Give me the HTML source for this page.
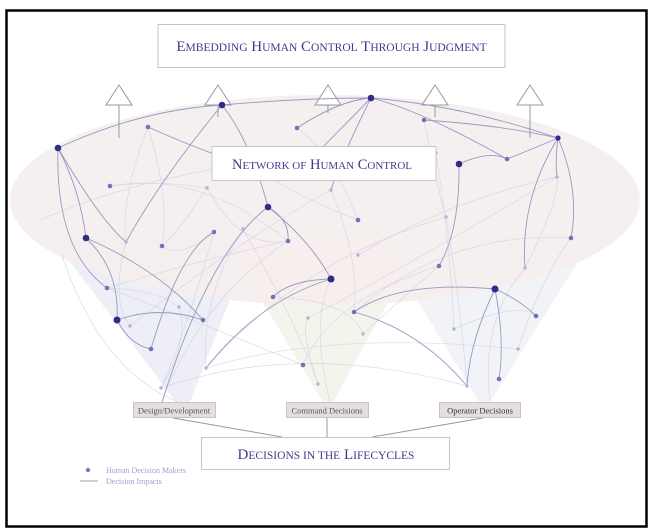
<!DOCTYPE html>
<html><head><meta charset="utf-8"><style>
html,body{margin:0;padding:0;background:#fff;}
svg{display:block;font-family:"Liberation Serif",serif;}
</style></head><body>
<svg width="651" height="531" viewBox="0 0 651 531" xmlns="http://www.w3.org/2000/svg">
<rect x="0" y="0" width="651" height="531" fill="#fff"/>
<rect x="6.5" y="10.5" width="640" height="516" fill="#fff" stroke="#000" stroke-width="2.5"/>
<!-- funnels -->
<polygon points="50,235 255,235 190,402 176,402" fill="#eeeef6"/>
<polygon points="222,235 425,235 333,402 323,402" fill="#f4f3ec"/>
<polygon points="378,235 595,235 490,402 479,402" fill="#f1f3f7"/>
<!-- ellipse -->
<ellipse cx="325" cy="200" rx="315" ry="105" fill="#f5eeee" opacity="0.93"/>
<!-- arrows -->
<g stroke="#999" stroke-width="1" fill="#fff">
<line x1="119" y1="105" x2="119" y2="138"/><polygon points="119,85 106,105 132,105"/>
<line x1="218" y1="105" x2="218" y2="117"/><polygon points="218,85 205,105 231,105"/>
<line x1="328" y1="105" x2="328" y2="113"/><polygon points="328,85 315,105 341,105"/>
<line x1="435" y1="105" x2="435" y2="117"/><polygon points="435,85 422,105 448,105"/>
<line x1="530" y1="105" x2="530" y2="138"/><polygon points="530,85 517,105 543,105"/>
</g>
<!-- light edges -->
<g fill="none" stroke="#cfcfe4" stroke-width="0.7" opacity="0.75">
<path d="M110,186 Q200,170 288,241"/><path d="M110,186 Q160,180 207,188"/>
<path d="M148,127 Q120,200 126,242"/><path d="M148,127 Q170,200 162,246"/>
<path d="M207,188 Q180,230 162,246"/><path d="M207,188 Q240,250 288,241"/>
<path d="M162,246 Q180,260 214,232"/><path d="M107,288 Q200,260 288,241"/>
<path d="M107,288 Q160,290 179,307"/><path d="M126,242 Q110,300 130,326"/>
<path d="M243,229 Q200,300 206,368"/><path d="M243,229 Q300,330 318,384"/>
<path d="M214,232 Q190,320 161,388"/><path d="M179,307 Q190,340 161,388"/>
<path d="M62,255 Q100,370 178,402"/><path d="M162,402 Q200,300 288,241"/>
<path d="M206,368 Q300,260 446,217"/><path d="M308,318 Q400,270 557,177"/>
<path d="M331,190 Q360,260 354,312"/><path d="M358,255 Q450,200 557,177"/>
<path d="M354,312 Q450,230 571,238"/><path d="M446,217 Q460,300 467,386"/>
<path d="M436,153 Q450,240 454,329"/><path d="M525,268 Q560,200 557,177"/>
<path d="M454,329 Q520,300 536,316"/><path d="M518,349 Q540,280 571,238"/>
<path d="M161,388 Q300,340 467,386"/><path d="M206,368 Q330,330 518,349"/>
<path d="M303,365 Q330,300 439,266"/><path d="M318,384 Q300,330 308,318"/>
<path d="M226,148 Q280,190 358,220"/><path d="M297,128 Q330,150 358,220"/>
<path d="M363,334 Q400,300 439,266"/><path d="M107,288 Q220,330 303,365"/>
<path d="M273,297 Q350,300 363,334"/><path d="M424,120 Q440,200 446,217"/>
<path d="M130,326 Q240,240 331,190"/><path d="M40,220 Q200,150 436,153"/>
<path d="M490,402 Q480,320 525,268"/><path d="M330,402 Q310,320 331,279"/>
</g>
<!-- dark edges -->
<g fill="none" stroke="#9898c4" stroke-width="0.9">
<path d="M58,148 Q140,110 222,105"/><path d="M222,105 Q300,98 371,98"/>
<path d="M371,98 Q460,105 558,138"/><path d="M371,98 Q420,110 507,159"/>
<path d="M424,120 Q500,125 558,138"/><path d="M297,128 Q340,100 371,98"/>
<path d="M371,98 Q340,160 331,190"/><path d="M371,98 Q330,140 300,170"/>
<path d="M222,105 Q160,180 126,242"/><path d="M222,105 Q250,140 268,207"/>
<path d="M148,127 Q200,150 226,158"/>
<path d="M58,148 Q80,190 86,238"/><path d="M58,148 Q100,220 126,242"/>
<path d="M58,148 Q55,250 107,288"/>
<path d="M86,238 Q160,270 203,320"/><path d="M86,238 Q120,270 117,320"/>
<path d="M117,320 Q160,305 203,320"/><path d="M117,320 Q130,345 151,349"/>
<path d="M151,349 Q180,250 214,232"/>
<path d="M268,207 Q310,240 331,279"/><path d="M268,207 Q290,220 288,241"/>
<path d="M268,207 Q210,250 162,402"/>
<path d="M331,279 Q290,280 273,297"/><path d="M331,279 Q260,300 206,368"/>
<path d="M459,164 Q490,150 507,159"/><path d="M507,159 Q530,150 558,138"/>
<path d="M459,164 Q460,230 439,266"/>
<path d="M558,138 Q520,200 525,268"/><path d="M558,138 Q580,190 571,238"/>
<path d="M558,138 Q555,160 557,177"/>
<path d="M495,289 Q400,280 354,312"/><path d="M495,289 Q520,300 536,316"/>
<path d="M495,289 Q470,340 467,386"/><path d="M495,289 Q505,340 499,379"/>
<path d="M354,312 Q420,330 467,386"/>
</g>
<!-- nodes -->
<g fill="#b3b3d8">
<circle cx="126" cy="242" r="1.7"/><circle cx="207" cy="188" r="1.7"/><circle cx="243" cy="229" r="1.7"/>
<circle cx="179" cy="307" r="1.7"/><circle cx="130" cy="326" r="1.7"/><circle cx="206" cy="368" r="1.7"/>
<circle cx="161" cy="388" r="1.7"/><circle cx="331" cy="190" r="1.7"/><circle cx="358" cy="255" r="1.7"/>
<circle cx="318" cy="384" r="1.7"/><circle cx="446" cy="217" r="1.7"/><circle cx="557" cy="177" r="1.7"/>
<circle cx="525" cy="268" r="1.7"/><circle cx="454" cy="329" r="1.7"/><circle cx="467" cy="386" r="1.7"/>
<circle cx="518" cy="349" r="1.7"/><circle cx="308" cy="318" r="1.7"/><circle cx="436" cy="153" r="1.7"/>
<circle cx="363" cy="334" r="1.7"/>
</g>
<g fill="#7272bb">
<circle cx="148" cy="127" r="2.3"/><circle cx="110" cy="186" r="2.3"/><circle cx="162" cy="246" r="2.3"/>
<circle cx="214" cy="232" r="2.3"/><circle cx="288" cy="241" r="2.3"/><circle cx="107" cy="288" r="2.3"/>
<circle cx="203" cy="320" r="2.3"/><circle cx="151" cy="349" r="2.3"/><circle cx="273" cy="297" r="2.3"/>
<circle cx="297" cy="128" r="2.3"/><circle cx="358" cy="220" r="2.3"/><circle cx="354" cy="312" r="2.3"/>
<circle cx="424" cy="120" r="2.3"/><circle cx="507" cy="159" r="2.3"/><circle cx="571" cy="238" r="2.3"/>
<circle cx="439" cy="266" r="2.3"/><circle cx="536" cy="316" r="2.3"/><circle cx="499" cy="379" r="2.3"/>
<circle cx="303" cy="365" r="2.3"/>
</g>
<g fill="#2e2e86">
<circle cx="222" cy="105" r="3.3"/><circle cx="371" cy="98" r="3.3"/><circle cx="58" cy="148" r="3.3"/>
<circle cx="86" cy="238" r="3.3"/><circle cx="268" cy="207" r="3.3"/><circle cx="331" cy="279" r="3.5"/>
<circle cx="117" cy="320" r="3.5"/><circle cx="459" cy="164" r="3.3"/><circle cx="495" cy="289" r="3.5"/>
<circle cx="558" cy="138" r="2.6"/>
</g>
<!-- top box -->
<rect x="158" y="24.5" width="347" height="43" fill="#fff" stroke="#c4c4cc"/>
<text x="331.5" y="51" text-anchor="middle" fill="#3c3c8c" font-size="15">E<tspan font-size="11.5">MBEDDING</tspan> H<tspan font-size="11.5">UMAN</tspan> C<tspan font-size="11.5">ONTROL</tspan> T<tspan font-size="11.5">HROUGH</tspan> J<tspan font-size="11.5">UDGMENT</tspan></text>
<!-- network box -->
<rect x="212" y="146.5" width="224" height="34" fill="#fff" stroke="#c4c4cc"/>
<text x="322" y="169" text-anchor="middle" fill="#3c3c8c" font-size="14.5">N<tspan font-size="11">ETWORK OF</tspan> H<tspan font-size="11">UMAN</tspan> C<tspan font-size="11">ONTROL</tspan></text>
<!-- connectors -->
<g stroke="#999" stroke-width="1">
<line x1="173" y1="418" x2="282" y2="437"/><line x1="327" y1="418" x2="327" y2="437"/><line x1="483" y1="418" x2="372" y2="437"/>
</g>
<!-- label boxes -->
<g fill="#e4dede" stroke="#c8c4c4">
<rect x="133.5" y="402.5" width="82" height="15"/>
<rect x="286.5" y="402.5" width="82" height="15"/>
<rect x="439.5" y="402.5" width="81" height="15"/>
</g>
<g font-size="8.5" fill="#555" text-anchor="middle">
<text x="174" y="413.5">Design/Development</text>
<text x="327" y="413.5">Command Decisions</text>
<text x="480" y="413.5" fill="#333">Operator Decisions</text>
</g>
<!-- bottom box -->
<rect x="201.5" y="437.5" width="248" height="32" fill="#fff" stroke="#c4c4cc"/>
<text x="326" y="459" text-anchor="middle" fill="#3c3c8c" font-size="15">D<tspan font-size="11.5">ECISIONS IN THE</tspan> L<tspan font-size="11.5">IFECYCLES</tspan></text>
<!-- legend -->
<circle cx="88" cy="470" r="2.2" fill="#7878c0"/>
<line x1="80" y1="481" x2="98" y2="481" stroke="#888" stroke-width="0.8"/>
<text x="106" y="473" font-size="8" fill="#a0a0d0">Human Decision Makers</text>
<text x="106" y="484" font-size="8" fill="#a0a0d0">Decision Impacts</text>
</svg>
</body></html>
